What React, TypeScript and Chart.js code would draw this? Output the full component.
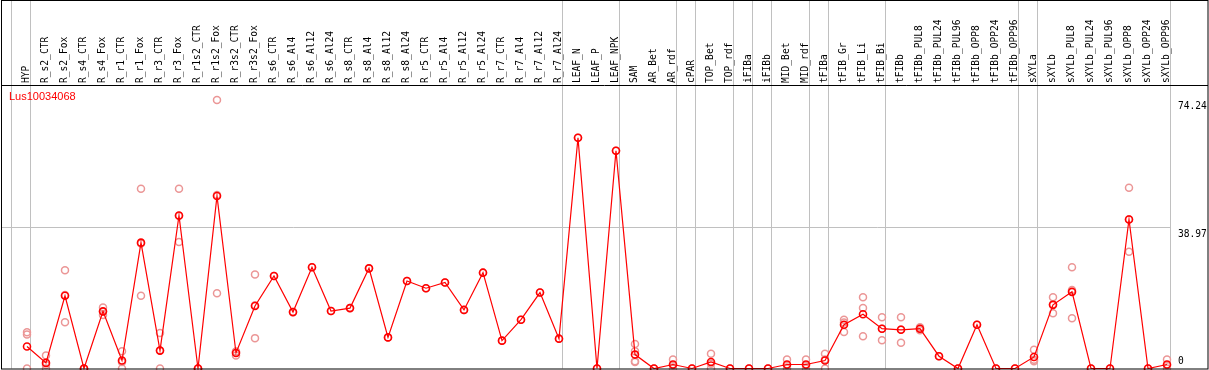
import React, { useEffect, useRef } from 'react';
import { Chart, registerables } from 'chart.js';

Chart.register(...registerables);

const chartTitle = 'Lus10034068';

const categories = [
  'HYP', 'R_s2_CTR', 'R_s2_Fox', 'R_s4_CTR', 'R_s4_Fox', 'R_r1_CTR', 'R_r1_Fox', 'R_r3_CTR', 'R_r3_Fox',
  'R_r1s2_CTR', 'R_r1s2_Fox', 'R_r3s2_CTR', 'R_r3s2_Fox', 'R_s6_CTR', 'R_s6_Al4', 'R_s6_Al12', 'R_s6_Al24',
  'R_s8_CTR', 'R_s8_Al4', 'R_s8_Al12', 'R_s8_Al24', 'R_r5_CTR', 'R_r5_Al4', 'R_r5_Al12', 'R_r5_Al24',
  'R_r7_CTR', 'R_r7_Al4', 'R_r7_Al12', 'R_r7_Al24', 'LEAF_N', 'LEAF_P', 'LEAF_NPK', 'SAM', 'AR_Bet', 'AR_rdf',
  'cPAR', 'TOP_Bet', 'TOP_rdf', 'iFIBa', 'iFIBb', 'MID_Bet', 'MID_rdf', 'tFIBa', 'tFIB_Gr', 'tFIB_Li', 'tFIB_Bi',
  'tFIBb', 'tFIBb_PUL8', 'tFIBb_PUL24', 'tFIBb_PUL96', 'tFIBb_OPP8', 'tFIBb_OPP24', 'tFIBb_OPP96', 'sXYLa',
  'sXYLb', 'sXYLb_PUL8', 'sXYLb_PUL24', 'sXYLb_PUL96', 'sXYLb_OPP8', 'sXYLb_OPP24', 'sXYLb_OPP96',
];

const meanValues = [
  6.1, 1.55, 20.1, 0, 15.8, 2.2, 34.8, 4.95, 42.3, 0,
  47.7, 4.3, 17.3, 25.6, 15.6, 28.0, 15.9, 16.7, 27.7, 8.6,
  24.2, 22.2, 23.8, 16.2, 26.5, 7.7, 13.5, 21.0, 8.25, 63.8,
  0, 60.2, 3.85, 0, 1.1, 0, 1.8, 0, 0, 0,
  1.1, 1.1, 2.2, 12.1, 15.0, 11.0, 10.7, 11.0, 3.4, 0,
  12.1, 0, 0, 3.2, 17.6, 21.2, 0, 0, 41.2, 0,
  1.1,
];

const replicateValues: number[][] = [
  [10.0, 9.4, 0], [3.6, 0, 1.0], [27.2, 12.8, 20.3], [0, 0, 0], [16.9, 14.8, 15.7],
  [4.8, 0, 1.8], [49.7, 20.1, 34.6], [9.8, 0, 5.0], [49.7, 35.0, 42.2], [0, 0, 0],
  [74.24, 20.8, 48.0], [3.6, 4.6, 4.7], [26.0, 8.4, 17.5], [25.6], [15.6],
  [28.0], [15.9], [16.7], [27.7], [8.6],
  [24.2], [22.2], [23.8], [16.2], [26.5],
  [7.7], [13.5], [21.0], [8.25], [63.8],
  [0], [60.2], [6.8, 4.8, 1.8, 2.0], [0], [2.5, 0.8, 0],
  [0], [4.1, 1.3, 0], [0], [0], [0],
  [2.5, 0.8, 0], [2.5, 0.8, 0], [4.1, 0, 2.5], [13.5, 10.1, 12.7], [19.7, 16.7, 8.9],
  [14.2, 7.8, 11.0], [14.2, 7.1, 10.8], [11.4, 10.6, 11.0], [3.4], [0],
  [12.1], [0], [0], [5.2, 2.4, 2.0], [19.7, 15.3, 17.8],
  [28.0, 13.9, 21.7], [0], [0], [50.0, 32.3, 41.3], [0],
  [2.5, 0.8, 0],
];

// group separators are drawn just after these category indices
const separatorsAfter = [-1, 0, 28, 31, 34, 35, 37, 38, 39, 41, 42, 45, 52, 53, 60];
const yTickValues = [0, 38.97, 74.24];
const yGridValues = [38.97];

const MONO = "'DejaVu Sans Mono', monospace";

const decorPlugin = {
  id: 'decor',
  beforeDatasetsDraw(chart: any) {
    const { ctx, chartArea, scales } = chart;
    ctx.save();
    ctx.strokeStyle = '#c0c0c0';
    ctx.lineWidth = 1;
    separatorsAfter.forEach((i) => {
      const x = Math.round(scales.x.getPixelForValue(i + 0.18)) + 0.5;
      ctx.beginPath();
      ctx.moveTo(x, 0);
      ctx.lineTo(x, chartArea.bottom);
      ctx.stroke();
    });
    ctx.restore();
  },
  afterDraw(chart: any) {
    const { ctx, chartArea, scales, width } = chart;
    ctx.save();
    // frame
    ctx.strokeStyle = '#000';
    ctx.lineWidth = 1;
    ctx.strokeRect(1.5, 0.5, width - 2.5, Math.round(chartArea.bottom) - 0.5);
    ctx.beginPath();
    ctx.moveTo(1, Math.round(chartArea.top) + 0.5);
    ctx.lineTo(width - 1, Math.round(chartArea.top) + 0.5);
    ctx.stroke();
    // title
    ctx.fillStyle = '#ff0000';
    ctx.font = "11px 'Liberation Sans', Arial, sans-serif";
    ctx.textAlign = 'left';
    ctx.textBaseline = 'middle';
    ctx.fillText(chartTitle, 9, chartArea.top + 12);
    // y tick labels
    ctx.fillStyle = '#000';
    ctx.font = `9.6px ${MONO}`;
    ctx.textAlign = 'left';
    ctx.textBaseline = 'top';
    scales.y.ticks.forEach((t: any) => {
      let y = scales.y.getPixelForValue(t.value) + 2;
      if (y > chartArea.bottom - 12) y = chartArea.bottom - 12;
      ctx.fillText(String(t.value), chartArea.right + 8, y);
    });
    ctx.restore();
  },
};

export default function App() {
  const ref = useRef<HTMLCanvasElement | null>(null);

  useEffect(() => {
    document.body.style.margin = '0';
    if (!ref.current) return;
    const linePoints = meanValues.map((v, i) => ({ x: i, y: v }));
    const repPoints: { x: number; y: number }[] = [];
    replicateValues.forEach((reps, i) => reps.forEach((v) => repPoints.push({ x: i, y: v })));

    const chart = new Chart(ref.current, {
      type: 'line',
      data: {
        datasets: [
          {
            type: 'line',
            data: linePoints,
            borderColor: '#ff0000',
            borderWidth: 1.2,
            pointStyle: 'circle',
            pointRadius: 3.5,
            pointBorderWidth: 1.6,
            pointBorderColor: '#ff0000',
            pointBackgroundColor: 'rgba(255,255,255,0)',
            tension: 0,
            clip: false as any,
            order: 1,
          },
          {
            type: 'scatter',
            data: repPoints,
            showLine: false,
            pointStyle: 'circle',
            pointRadius: 3.5,
            pointBorderWidth: 1.5,
            pointBorderColor: '#eb9696',
            pointBackgroundColor: 'rgba(255,255,255,0)',
            clip: false as any,
            order: 2,
          },
        ],
      },
      options: {
        animation: false,
        responsive: false,
        devicePixelRatio: 1,
        layout: { autoPadding: false, padding: { left: 1, right: 0, top: 0, bottom: 1.5 } },
        plugins: { legend: { display: false }, tooltip: { enabled: false }, title: { display: false } },
        scales: {
          x: {
            type: 'linear',
            position: 'top',
            min: -1.368,
            max: 60.158,
            afterBuildTicks: (s: any) => {
              s.ticks = categories.map((_, i) => ({ value: i }));
            },
            afterFit: (s: any) => {
              s.height = 85;
              s.paddingLeft = 0;
              s.paddingRight = 0;
            },
            grid: { display: false, drawTicks: false },
            border: { display: false },
            ticks: {
              autoSkip: false,
              maxRotation: 90,
              minRotation: 90,
              padding: 2,
              labelOffset: 11.5,
              color: '#000',
              font: { family: MONO, size: 9.6 },
              callback: (_v: any, idx: number) => categories[idx],
            },
          },
          y: {
            type: 'linear',
            position: 'right',
            min: 0,
            max: 78.4,
            afterBuildTicks: (s: any) => {
              s.ticks = yTickValues.map((v) => ({ value: v }));
            },
            afterFit: (s: any) => {
              s.width = 39;
            },
            grid: {
              drawTicks: false,
              color: (c: any) => (c.tick && yGridValues.includes(c.tick.value) ? '#c0c0c0' : 'rgba(0,0,0,0)'),
              lineWidth: 1,
            },
            border: { display: false },
            ticks: { display: false },
          },
        },
      },
      plugins: [decorPlugin],
    } as any);
    return () => chart.destroy();
  }, []);

  return (
    <div style={{ width: 1209, height: 370, background: '#fff' }}>
      <canvas ref={ref} width={1209} height={370} style={{ display: 'block' }} />
    </div>
  );
}
